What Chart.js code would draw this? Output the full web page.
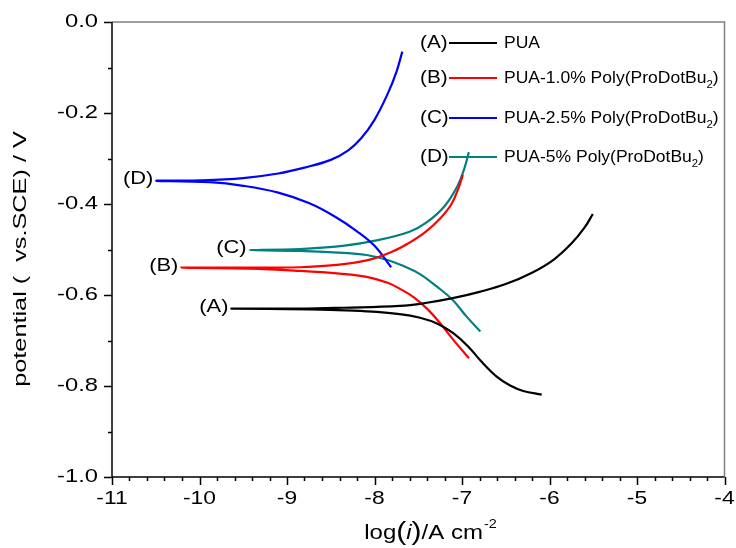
<!DOCTYPE html>
<html>
<head>
<meta charset="utf-8">
<script src="https://cdn.jsdelivr.net/npm/chart.js@4"></script>
<style>
  html, body { margin: 0; padding: 0; background: #fff; }
  #wrap { width: 736px; height: 548px; position: relative; }
</style>
</head>
<body>
<div id="wrap"><canvas id="c"></canvas></div>
<script>
// Tafel curves, log(i) vs potential
// each curve: anodic branch end -> Ecorr -> cathodic branch end
const xA = [-5.505, -5.6, -5.75, -5.95, -6.2, -6.5, -6.8, -7.106, -7.4, -7.713, -8.36, -8.857, -9.635,
            -9.0, -8.5, -8.09, -7.713, -7.48, -7.28, -7.1, -6.93, -6.77, -6.6, -6.45, -6.3, -6.089];
const yA = [-0.422, -0.452, -0.487, -0.522, -0.551, -0.576, -0.593, -0.607, -0.617, -0.624, -0.628, -0.630, -0.630,
            -0.631, -0.633, -0.636, -0.642, -0.650, -0.663, -0.684, -0.713, -0.748, -0.780, -0.799, -0.811, -0.819];

const xB = [-6.99, -7.04, -7.12, -7.25, -7.42, -7.6, -7.8, -8.09, -8.5, -8.857, -9.43, -10.207,
            -9.43, -8.857, -8.4, -8.09, -7.85, -7.713, -7.55, -7.4, -7.25, -7.106, -6.92];
const yB = [-0.336, -0.365, -0.400, -0.432, -0.462, -0.485, -0.505, -0.524, -0.535, -0.539, -0.540, -0.540,
            -0.542, -0.547, -0.553, -0.560, -0.573, -0.586, -0.605, -0.630, -0.662, -0.697, -0.739];

const xC = [-7.682, -7.75, -7.85, -8.0, -8.15, -8.3, -8.5, -8.8, -9.1, -9.5, -10.0, -10.493,
            -9.88, -9.5, -9.1, -8.75, -8.45, -8.2, -8.0, -7.81];
const yC = [-0.065, -0.110, -0.158, -0.215, -0.255, -0.282, -0.303, -0.320, -0.333, -0.343, -0.348, -0.349,
            -0.352, -0.360, -0.375, -0.398, -0.428, -0.460, -0.492, -0.539];

const xD = [-6.922, -6.97, -7.05, -7.2, -7.4, -7.6, -7.976, -8.364, -8.857, -9.428,
            -8.857, -8.3, -8.09, -7.85, -7.65, -7.48, -7.29, -7.106, -6.95, -6.79];
const yD = [-0.286, -0.320, -0.360, -0.405, -0.440, -0.461, -0.480, -0.492, -0.499, -0.501,
            -0.503, -0.508, -0.512, -0.523, -0.538, -0.554, -0.581, -0.611, -0.647, -0.680];

const tags = ['(A)', '(B)', '(C)', '(D)'];
const names = ['PUA', 'PUA-1.0% Poly(ProDotBu', 'PUA-2.5% Poly(ProDotBu', 'PUA-5% Poly(ProDotBu'];
// tag printed next to each curve inside the plot
const curveTags = ['(A)', '(B)', '(D)', '(C)'];
const colors = ['#000000', '#ff0000', '#0000ff', '#008080'];

const xTicks = [-11, -10, -9, -8, -7, -6, -5, -4];
const yTicks = [0.0, -0.2, -0.4, -0.6, -0.8, -1.0];

const FONT = '"Liberation Sans", Arial, sans-serif';

function pts(xs, ys) { return xs.map((x, i) => ({ x, y: ys[i] })); }

// text with a bit of horizontal stretch, like the original export
function txt(ctx, s, x, y, size, align, sx, style) {
  ctx.save();
  ctx.translate(x, y);
  ctx.scale(sx, 1);
  ctx.font = (style || '') + ' ' + size + 'px ' + FONT;
  ctx.textAlign = align;
  ctx.textBaseline = 'middle';
  ctx.fillStyle = '#000';
  ctx.fillText(s, 0, 0);
  const w = ctx.measureText(s).width * sx;
  ctx.restore();
  return w;
}

const decor = {
  id: 'decor',
  afterDraw(chart) {
    const { ctx, chartArea: a, scales: { x, y } } = chart;
    ctx.save();

    // frame top / right (grey)
    ctx.strokeStyle = '#808080';
    ctx.lineWidth = 1.5;
    ctx.beginPath();
    ctx.moveTo(a.left, a.top); ctx.lineTo(a.right, a.top); ctx.lineTo(a.right, a.bottom);
    ctx.stroke();

    // axes
    ctx.strokeStyle = '#000';
    ctx.lineWidth = 1.5;
    ctx.beginPath();
    ctx.moveTo(a.left, a.top); ctx.lineTo(a.left, a.bottom); ctx.lineTo(a.right, a.bottom);
    ctx.stroke();

    // x ticks: major each 1, minor each 0.2, pointing out
    ctx.beginPath();
    for (let k = 0; k <= 35; k++) {
      const v = -11 + k * 0.2;
      const px = Math.round(x.getPixelForValue(v)) + 0.5;
      const len = k % 5 === 0 ? 8 : 4;
      ctx.moveTo(px, a.bottom); ctx.lineTo(px, a.bottom + len);
    }
    // y ticks: major each 0.2, minor each 0.1
    for (let k = 0; k <= 10; k++) {
      const v = -k * 0.1;
      const py = Math.round(y.getPixelForValue(v)) + 0.5;
      const len = k % 2 === 0 ? 8 : 4;
      ctx.moveTo(a.left, py); ctx.lineTo(a.left - len, py);
    }
    ctx.stroke();

    // tick labels
    xTicks.forEach(v => txt(ctx, String(v), x.getPixelForValue(v), a.bottom + 22, 19, 'center', 1.2));
    yTicks.forEach(v => txt(ctx, v.toFixed(1), a.left - 14, y.getPixelForValue(v), 19, 'right', 1.25));

    // y title
    ctx.save();
    ctx.translate(21, 259);
    ctx.rotate(-Math.PI / 2);
    txt(ctx, 'potential (  vs.SCE) / V', 0, 0, 19, 'center', 1.33);
    ctx.restore();

    // x title: log(i)/A cm^-2
    {
      const sx = 1.2;
      const parts = [['log', 20, ''], ['(', 25, ''], ['i', 20, 'italic'], [')', 25, ''], ['/A cm', 20, '']];
      let total = 0;
      parts.forEach(p => { ctx.font = p[2] + ' ' + p[1] + 'px ' + FONT; total += ctx.measureText(p[0]).width * sx; });
      ctx.font = '12px ' + FONT;
      total += ctx.measureText('-2').width * sx;
      let cx = 430 - total / 2;
      const cy = 533;
      parts.forEach(p => { cx += txt(ctx, p[0], cx, cy, p[1], 'left', sx, p[2]); });
      txt(ctx, '-2', cx + 1, cy - 8, 12, 'left', sx);
    }

    // curve tags next to the corrosion potential end
    const series = [[xA, yA], [xB, yB], [xC, yC], [xD, yD]];
    series.forEach((s, i) => {
      const j = s[0].indexOf(Math.min(...s[0]));
      const px = x.getPixelForValue(s[0][j]);
      const py = y.getPixelForValue(s[1][j]);
      txt(ctx, curveTags[i], px - 3, py - 2, 19, 'right', 1.15);
    });

    // legend
    const rows = [43, 78, 118, 157];
    names.forEach((n, i) => {
      const ry = rows[i];
      txt(ctx, tags[i], 420, ry, 18, 'left', 1.15);
      ctx.strokeStyle = colors[i];
      ctx.lineWidth = 2.2;
      ctx.beginPath(); ctx.moveTo(449, ry); ctx.lineTo(497, ry); ctx.stroke();
      let tx = 504;
      tx += txt(ctx, n, tx, ry, 17, 'left', 1.03);
      if (i > 0) {
        tx += txt(ctx, '2', tx, ry + 7, 11, 'left', 1.03);
        txt(ctx, ')', tx, ry, 17, 'left', 1.03);
      }
    });

    ctx.restore();
  }
};

new Chart(document.getElementById('c'), {
  type: 'scatter',
  data: {
    datasets: [
      { data: pts(xA, yA), borderColor: colors[0] },
      { data: pts(xB, yB), borderColor: colors[1] },
      { data: pts(xC, yC), borderColor: colors[2] },
      { data: pts(xD, yD), borderColor: colors[3] },
    ].map(d => Object.assign(d, { showLine: true, pointRadius: 0, borderWidth: 2.2, tension: 0.4, fill: false })),
  },
  options: {
    responsive: true,
    maintainAspectRatio: false,
    animation: false,
    layout: { padding: { left: 0, top: 22, right: 11.5, bottom: 0 } },
    plugins: { legend: { display: false }, tooltip: { enabled: false } },
    scales: {
      x: {
        type: 'linear', min: -11, max: -4,
        grid: { display: false }, border: { display: false },
        ticks: { display: false },
        afterFit: s => { s.height = 71; },
      },
      y: {
        type: 'linear', min: -1, max: 0,
        grid: { display: false }, border: { display: false },
        ticks: { display: false },
        afterFit: s => { s.width = 112; },
      },
    },
  },
  plugins: [decor],
});
</script>
</body>
</html>
